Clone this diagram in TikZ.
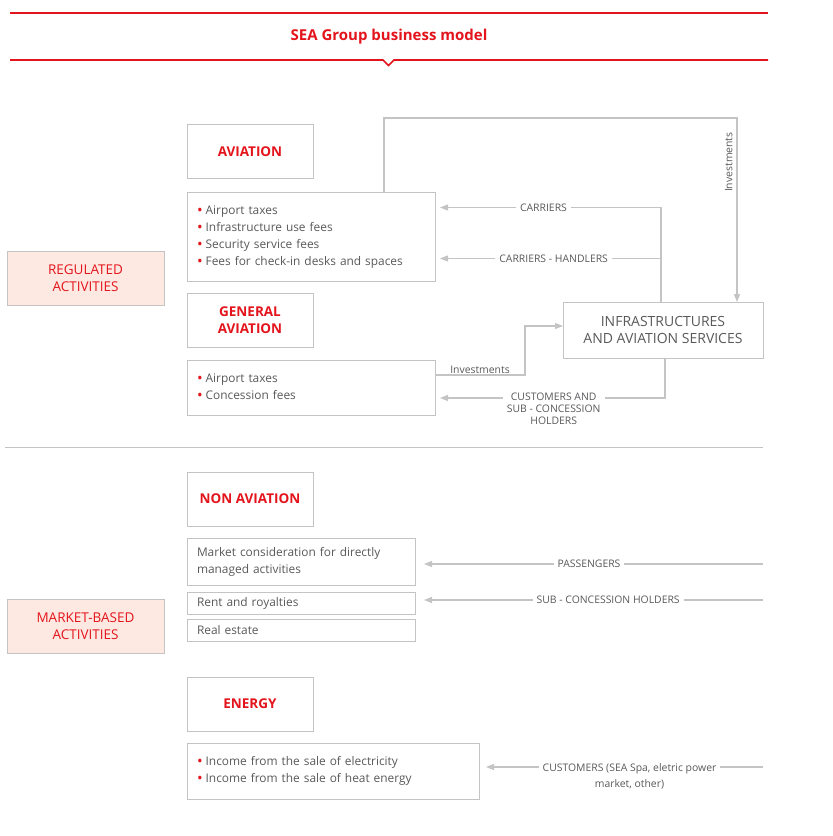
\documentclass[tikz,border=0pt]{standalone}
\usepackage{fontspec}
\setmainfont{Open Sans}
\usetikzlibrary{positioning,arrows.meta}

\definecolor{seared}{HTML}{E3141C}
\definecolor{linegray}{HTML}{C4C4C4}
\definecolor{textgray}{HTML}{58595B}
\definecolor{actfill}{HTML}{FDE9E1}

\newcommand{\redbullet}{\raisebox{-1.2pt}{\color{seared}\fontsize{15}{17}\selectfont\textbullet}\hspace{3pt}}

\tikzset{
  rule/.style={draw=seared, line width=1.6pt},
  title/.style={text=seared, font=\fontsize{15}{18}\selectfont\bfseries},
  head/.style={draw=linegray, line width=1pt, minimum width=126pt, minimum height=54pt,
    inner sep=0pt, outer sep=0pt, align=center, text=seared,
    font=\fontsize{13.5}{17}\selectfont\bfseries},
  activity/.style={draw=linegray, line width=1pt, fill=actfill, minimum width=157pt,
    minimum height=54pt, inner sep=0pt, align=center, text=seared,
    font=\fontsize{13.5}{17}\selectfont},
  list/.style={draw=linegray, line width=1pt, inner xsep=10pt, inner ysep=0pt,
    outer sep=0pt, align=left, text=textgray, font=\fontsize{11.9}{17}\selectfont},
  flow/.style={draw=linegray, line width=1.1pt, -{Triangle[length=8pt,width=6pt]}},
  tag/.style={fill=white, text=textgray, inner xsep=4pt, inner ysep=1pt,
    font=\fontsize{10.4}{12}\selectfont}
}

\begin{document}
\begin{tikzpicture}[x=1pt, y=-1pt]
    \useasboundingbox (0,0) rectangle (833,836);

    % title
    \node[title] (title) at (389,37) {SEA Group business model};
    \draw[rule] (10,13) -- (768,13);
    \draw[rule] (10,60) -- (383,60) -- (388.5,65.5) -- (394,60) -- (768,60);

    % regulated activities
    \node[activity] (reg) at (85.5,278) {REGULATED\\ACTIVITIES};
    \node[head] (av) at (250,151.5) {AVIATION};
    \node[list, text width=228pt, minimum height=89pt, below right=14pt and 0pt of av.south west] (avlist)
        {\redbullet Airport taxes\\\redbullet Infrastructure use fees\\\redbullet Security service fees\\\redbullet Fees for check-in desks and spaces};
    \node[head] (ga) at (250,320) {GENERAL\\AVIATION};
    \node[list, text width=228pt, minimum height=55pt, below right=13pt and 0pt of ga.south west] (galist)
        {\redbullet Airport taxes\\\redbullet Concession fees};
    \node[head, minimum width=200pt, minimum height=56pt, text=textgray,
        font=\fontsize{14}{17}\selectfont] (infra) at (663,330) {INFRASTRUCTURES\\AND AVIATION SERVICES};

    \coordinate (invcorner) at (737,118);
    \coordinate (trunk) at ([xshift=-2pt]infra.north);
    \coordinate (handy) at ([yshift=-21.5pt]avlist.east);

    % investments into infrastructures
    \draw[flow] ([xshift=-51pt]avlist.north east) |- (invcorner) -- (invcorner |- infra.north)
        node[pos=0.24, rotate=90, anchor=south, tag, fill=none, inner ysep=4pt] {Investments};
    \draw[flow] ([yshift=12.5pt]galist.east) -- node[tag, fill=none, above] {Investments} ++(90,0)
        |- ([yshift=4pt]infra.west);

    % revenues back to the boxes
    \draw[flow, shorten >=5pt] (trunk) |- ([yshift=-15pt]avlist.north east) node[pos=0.76, tag] {CARRIERS};
    \draw[flow, shorten >=5pt] (trunk |- handy) -- (handy) node[pos=0.475, tag] {CARRIERS - HANDLERS};
    \draw[flow, shorten >=5pt] ([xshift=2pt]infra.south) |- ([yshift=-10.5pt]galist.east)
        node[pos=0.742, tag, anchor=north, yshift=6.5pt, align=center] {CUSTOMERS AND\\SUB - CONCESSION\\HOLDERS};

    \draw[linegray, line width=1pt] (5,447) -- (763,447);

    % market-based activities
    \node[activity] (mkt) at (85.5,626) {MARKET-BASED\\ACTIVITIES};
    \node[head] (nonav) at (250,499) {NON AVIATION};
    \node[list, text width=208pt, minimum height=47pt, below right=12pt and 0pt of nonav.south west] (direct)
        {Market consideration for directly\\managed activities};
    \node[list, text width=208pt, minimum height=22pt, below right=7pt and 0pt of direct.south west] (rent)
        {Rent and royalties};
    \node[list, text width=208pt, minimum height=22pt, below right=5pt and 0pt of rent.south west] (estate)
        {Real estate};
    \node[head] (energy) at (250,704) {ENERGY};
    \node[list, text width=272pt, minimum height=56pt, below right=12pt and 0pt of energy.south west] (enlist)
        {\redbullet Income from the sale of electricity\\\redbullet Income from the sale of heat energy};

    \coordinate (pass) at (763,564);
    \coordinate (subc) at (763,600);
    \coordinate (cust) at (763,767);

    % right to left arrows
    \draw[flow, shorten >=9pt] (pass) -- (pass -| direct.east) node[pos=0.5, tag] {PASSENGERS};
    \draw[flow, shorten >=9pt] (subc) -- (subc -| rent.east) node[pos=0.445, tag] {SUB - CONCESSION HOLDERS};
    \draw[flow, shorten >=7pt] (cust) -- (cust -| enlist.east)
        node[pos=0.47, tag, anchor=north, yshift=5pt, align=center, font=\fontsize{10.4}{16}\selectfont]
        {CUSTOMERS (SEA Spa, eletric power\\market, other)};
\end{tikzpicture}
\end{document}
